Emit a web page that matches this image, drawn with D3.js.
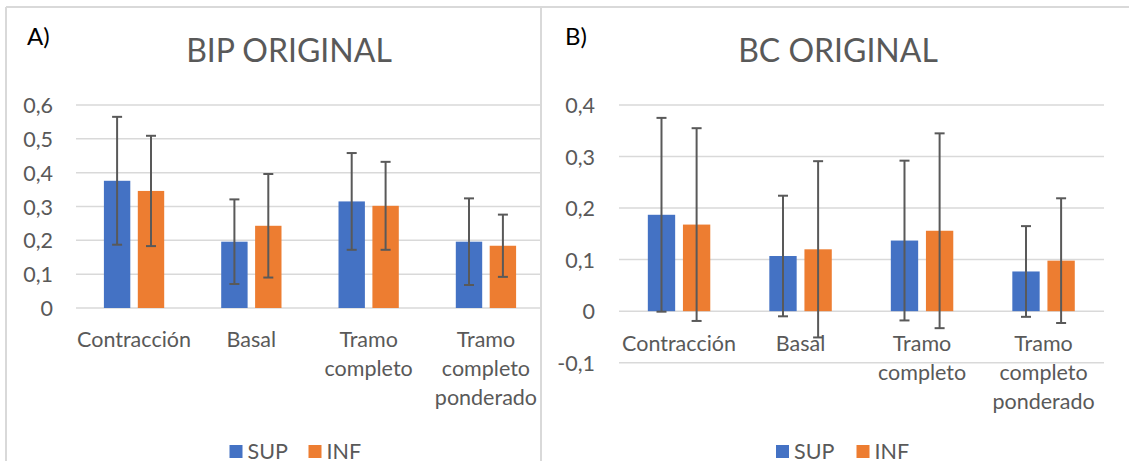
<!DOCTYPE html>
<html>
<head>
<meta charset="utf-8">
<script src="https://cdn.jsdelivr.net/npm/d3@7"></script>
<style>
  html, body { margin: 0; padding: 0; background: #fff; }
  svg { display: block; font-family: Lato, "Open Sans", sans-serif; }
</style>
</head>
<body>
<svg id="chart" width="1129" height="461"></svg>
<script>
// ---- Data ----
const categories = ["Contracción", "Basal", "Tramo completo", "Tramo completo ponderado"];
const categoryLines = [["Contracción"], ["Basal"], ["Tramo", "completo"], ["Tramo", "completo", "ponderado"]];
const seriesNames = ["SUP", "INF"];

const bipSup    = [0.376, 0.196, 0.315, 0.196];
const bipSupErr = [0.189, 0.125, 0.143, 0.128];
const bipInf    = [0.346, 0.243, 0.302, 0.184];
const bipInfErr = [0.163, 0.153, 0.130, 0.092];

const bcSup     = [0.187, 0.107, 0.137, 0.077];
const bcSupErr  = [0.188, 0.117, 0.155, 0.088];
const bcInf     = [0.168, 0.120, 0.156, 0.098];
const bcInfErr  = [0.187, 0.171, 0.189, 0.121];

const bipTicks = [0, 0.1, 0.2, 0.3, 0.4, 0.5, 0.6];
const bipTickLabels = ["0", "0,1", "0,2", "0,3", "0,4", "0,5", "0,6"];
const bcTicks = [-0.1, 0, 0.1, 0.2, 0.3, 0.4];
const bcTickLabels = ["-0,1", "0", "0,1", "0,2", "0,3", "0,4"];

const colors = ["#4472C4", "#ED7D31"];
const textColor = "#595959";
const gridColor = "#D9D9D9";

const svg = d3.select("#chart");
svg.append("rect").attr("width", 1129).attr("height", 461).attr("fill", "#fff");

// frame lines
svg.append("line").attr("x1", 6).attr("x2", 1129).attr("y1", 7).attr("y2", 7)
  .attr("stroke", gridColor).attr("stroke-width", 2);
svg.append("line").attr("x1", 6).attr("x2", 6).attr("y1", 7).attr("y2", 461)
  .attr("stroke", gridColor).attr("stroke-width", 2);
svg.append("line").attr("x1", 541).attr("x2", 541).attr("y1", 7).attr("y2", 461)
  .attr("stroke", gridColor).attr("stroke-width", 2);

function drawPanel(cfg) {
  const g = svg.append("g");
  const x = d3.scaleBand().domain(categories).range(cfg.xRange).padding(0);
  const y = d3.scaleLinear().domain(cfg.yDomain).range(cfg.yRange);

  // gridlines
  g.selectAll("line.grid").data(cfg.ticks).join("line")
    .attr("x1", cfg.gridX[0]).attr("x2", cfg.gridX[1])
    .attr("y1", d => y(d)).attr("y2", d => y(d))
    .attr("stroke", gridColor).attr("stroke-width", 1.5);

  // y axis labels via d3 axis
  const yAxis = d3.axisLeft(y).tickValues(cfg.ticks)
    .tickFormat((d, i) => cfg.tickLabels[i]).tickSize(0).tickPadding(0);
  const ya = g.append("g").attr("transform", `translate(${cfg.labelRight},0)`).call(yAxis);
  ya.select(".domain").remove();
  ya.selectAll("text").attr("fill", textColor).attr("font-size", 21.5)
    .attr("font-family", "Lato, sans-serif").attr("dy", "0.35em");

  const band = x.bandwidth();
  const bw = band * 0.225, gap = band * 0.064;
  const offs = [-gap / 2 - bw, gap / 2];
  const series = [
    { vals: cfg.sup, errs: cfg.supErr },
    { vals: cfg.inf, errs: cfg.infErr }
  ];
  series.forEach((s, si) => {
    const cx = (i) => x(categories[i]) + band / 2 + offs[si];
    g.selectAll(null).data(s.vals).join("rect")
      .attr("x", (d, i) => cx(i))
      .attr("width", bw)
      .attr("y", d => y(Math.max(0, d)))
      .attr("height", d => Math.abs(y(d) - y(0)))
      .attr("fill", colors[si]);
  });
  series.forEach((s, si) => {
    const mx = (i) => x(categories[i]) + band / 2 + offs[si] + bw / 2;
    const eg = g.append("g").attr("stroke", "#595959").attr("stroke-width", 2);
    s.vals.forEach((v, i) => {
      const e = s.errs[i];
      eg.append("line").attr("x1", mx(i)).attr("x2", mx(i)).attr("y1", y(v + e)).attr("y2", y(v - e));
      eg.append("line").attr("x1", mx(i) - 5).attr("x2", mx(i) + 5).attr("y1", y(v + e)).attr("y2", y(v + e));
      eg.append("line").attr("x1", mx(i) - 5).attr("x2", mx(i) + 5).attr("y1", y(v - e)).attr("y2", y(v - e));
    });
  });

  // category labels
  categories.forEach((c, i) => {
    const t = g.append("text").attr("text-anchor", "middle").attr("fill", textColor)
      .attr("font-size", 21.5);
    categoryLines[i].forEach((ln, j) => {
      t.append("tspan").attr("x", x(c) + band / 2).attr("y", y(0) + cfg.labelOffset + j * 29).text(ln);
    });
  });

  // title
  g.append("text").attr("x", cfg.titleX).attr("y", 62).attr("text-anchor", "middle")
    .attr("fill", textColor).attr("font-size", 32).text(cfg.title);
  g.append("text").attr("x", cfg.letterX).attr("y", 45).attr("fill", "#000")
    .attr("font-size", 24).text(cfg.letter);

  // legend
  const lg = g.append("g");
  seriesNames.forEach((n, i) => {
    lg.append("rect").attr("x", cfg.legendX[i]).attr("y", 445).attr("width", 13).attr("height", 13)
      .attr("fill", colors[i]);
    lg.append("text").attr("x", cfg.legendX[i] + 18).attr("y", 459).attr("fill", textColor)
      .attr("font-size", 21.5).text(n);
  });
}

drawPanel({
  title: "BIP ORIGINAL", letter: "A)", letterX: 27, titleX: 289,
  xRange: [75.4, 544.6], gridX: [76, 540], yDomain: [0, 0.6], yRange: [308, 105],
  ticks: bipTicks, tickLabels: bipTickLabels, labelRight: 53, labelOffset: 39,
  sup: bipSup, supErr: bipSupErr, inf: bipInf, infErr: bipInfErr,
  legendX: [229.5, 308.5]
});

drawPanel({
  title: "BC ORIGINAL", letter: "B)", letterX: 565, titleX: 838,
  xRange: [618.3, 1104.3], gridX: [619, 1104], yDomain: [-0.1, 0.4], yRange: [362.7, 105],
  ticks: bcTicks, tickLabels: bcTickLabels, labelRight: 595, labelOffset: 40,
  sup: bcSup, supErr: bcSupErr, inf: bcInf, infErr: bcInfErr,
  legendX: [776, 856.5]
});
</script>
</body>
</html>
